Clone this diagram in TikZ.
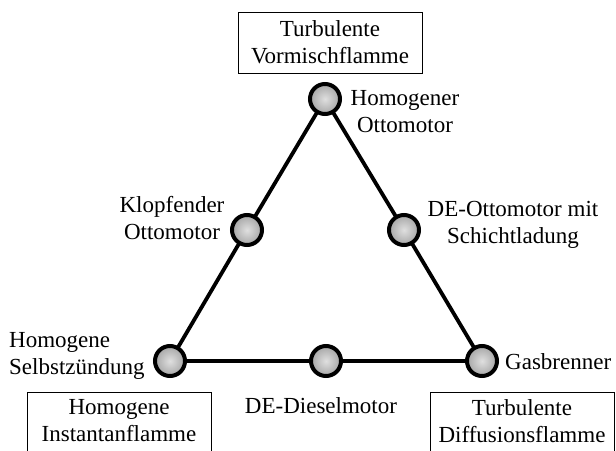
\documentclass[tikz,border=0pt]{standalone}
\usepackage{fontspec}
\setmainfont{Liberation Serif}
\begin{document}
\begin{tikzpicture}[x=1pt,y=-1pt,
  lbl/.style={align=center,inner sep=0pt,font=\fontsize{23}{27}\selectfont},
  boxlbl/.style={lbl,draw,line width=0.8pt,minimum width=184pt},
  frame/.style={draw,line width=0.8pt,minimum width=184pt,minimum height=70pt,inner sep=0pt,anchor=north},
  dot/.style={circle,draw,line width=4pt,minimum size=30pt,inner sep=0pt,shading=radial,inner color=gray!25,outer color=gray!70},
  link/.style={line width=3.8pt}]
\useasboundingbox (0,0) rectangle (616,450);
\coordinate (t) at (325,99);
\coordinate (bl) at (170,361);
\coordinate (bm) at (326,361);
\coordinate (br) at (482,361);
\coordinate (lm) at (247,230);
\coordinate (rm) at (404,230);
\draw[link] (t) -- (lm) -- (bl) -- (bm) -- (br) -- (rm) -- cycle;
\node[dot] (nt) at (t) {};
\node[dot] (nlm) at (lm) {};
\node[dot] (nrm) at (rm) {};
\node[dot] (nbl) at (bl) {};
\node[dot] (nbm) at (bm) {};
\node[dot] (nbr) at (br) {};
\node[boxlbl,minimum height=61pt] (boxt) at (330,42.5) {Turbulente\\Vormischflamme};
\node[frame] (framel) at (119,392) {};
\node[frame] (framer) at (522,392) {};
\node[lbl,anchor=north] (boxl) at (119,399) {Homogene\\Instantanflamme};
\node[lbl,anchor=north] (boxr) at (522,399) {Turbulente\\Diffusionsflamme};
\node[lbl] (lt) at (405,112) {Homogener\\Ottomotor};
\node[lbl] (llm) at (172,218) {Klopfender\\Ottomotor};
\node[lbl] (lrm) at (513,225) {DE-Ottomotor mit\\Schichtladung};
\node[lbl,align=left,anchor=west] (lbl) at (9,356) {Homogene\\Selbstzündung};
\node[lbl,anchor=west] (lbr) at (505,362) {Gasbrenner};
\node[lbl] (lbm) at (321,406) {DE-Dieselmotor};
\end{tikzpicture}
\end{document}
